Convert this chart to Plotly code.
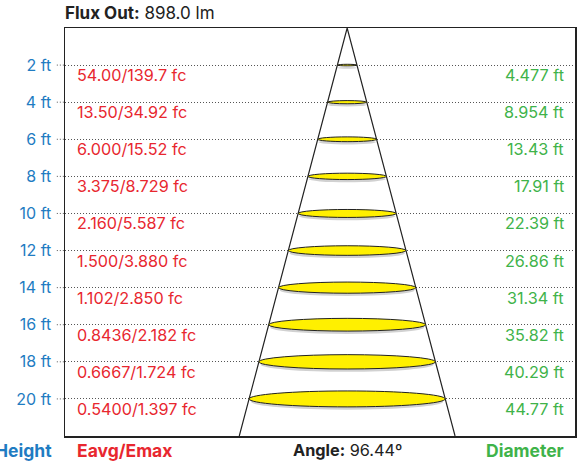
import math
import plotly.graph_objects as go

heights = [2, 4, 6, 8, 10, 12, 14, 16, 18, 20]
eavg = ["54.00", "13.50", "6.000", "3.375", "2.160", "1.500", "1.102", "0.8436", "0.6667", "0.5400"]
emax = ["139.7", "34.92", "15.52", "8.729", "5.587", "3.880", "2.850", "2.182", "1.724", "1.397"]
diameters = [4.477, 8.954, 13.43, 17.91, 22.39, 26.86, 31.34, 35.82, 40.29, 44.77]
diam_labels = ["4.477", "8.954", "13.43", "17.91", "22.39", "26.86", "31.34", "35.82", "40.29", "44.77"]
tick_labels = ["2 ft", "4 ft", "6 ft", "8 ft", "10 ft", "12 ft", "14 ft", "16 ft", "18 ft", "20 ft"]
beam_angle = 96.44
flux_out = "898.0"

RED = "#e8272f"
GREEN = "#3fb34a"
BLUE = "#1f7cc2"
YELLOW = "#fff000"
DARK = "#222222"
FONT = "Inter"

Y_MAX = 22
X_RANGE = [-64.4, 52.0]
ELLIPSE_RATIO = 0.0192  # vertical radius (ft) per horizontal radius (ft)

fig = go.Figure()

# cone outline
half = math.tan(math.radians(beam_angle / 2)) * Y_MAX
fig.add_trace(go.Scatter(x=[-half, 0, half], y=[Y_MAX, 0, Y_MAX], mode="lines",
                         line=dict(color=DARK, width=1.2), hoverinfo="skip",
                         showlegend=False))

shapes = []
for h in heights:
    # dotted tick stubs outside the frame
    shapes.append(dict(type="line", xref="paper", yref="y", x0=-0.016, x1=0, y0=h, y1=h,
                       line=dict(color="#555555", width=1, dash="1px,2px")))
for h, d in zip(heights, diameters):
    r = d / 2
    ry = r * ELLIPSE_RATIO
    shapes.append(dict(type="circle", xref="x", yref="y", x0=-r * 0.98, x1=r * 0.98,
                       y0=h - ry + 0.15, y1=h + ry + 0.15,
                       fillcolor="rgba(0,0,0,0.18)", line=dict(width=0), layer="above"))
    shapes.append(dict(type="circle", xref="x", yref="y", x0=-r, x1=r,
                       y0=h - ry, y1=h + ry,
                       fillcolor=YELLOW, line=dict(color=DARK, width=1), layer="above"))

annotations = []
for h, a, m, dl in zip(heights, eavg, emax, diam_labels):
    annotations.append(dict(x=0, xref="paper", xanchor="left", xshift=10,
                            y=h, yref="y", yanchor="middle", yshift=-10,
                            text=f"{a}/{m} fc", showarrow=False,
                            font=dict(family=FONT, size=16.2, color=RED)))
    annotations.append(dict(x=1, xref="paper", xanchor="right", xshift=-9,
                            y=h, yref="y", yanchor="middle", yshift=-10,
                            text=f"{dl} ft", showarrow=False,
                            font=dict(family=FONT, size=16.2, color=GREEN)))

annotations += [
    dict(x=0, xref="paper", xanchor="left", xshift=-2, y=1, yref="paper", yanchor="middle", yshift=15,
         text=f"<b>Flux Out:</b> {flux_out} lm", showarrow=False,
         font=dict(family=FONT, size=17, color=DARK)),
    dict(x=0, xref="paper", xanchor="right", xshift=-11, y=0, yref="paper", yanchor="middle", yshift=-14,
         text="<b>Height</b>", showarrow=False, font=dict(family=FONT, size=17.5, color=BLUE)),
    dict(x=0, xref="paper", xanchor="left", xshift=10, y=0, yref="paper", yanchor="middle", yshift=-14,
         text="<b>Eavg/Emax</b>", showarrow=False, font=dict(family=FONT, size=17.5, color=RED)),
    dict(x=0.443, xref="paper", xanchor="left", y=0, yref="paper", yanchor="middle", yshift=-14,
         text=f"<b>Angle:</b> {beam_angle:.2f}º", showarrow=False,
         font=dict(family=FONT, size=16.3, color=DARK)),
    dict(x=1, xref="paper", xanchor="right", xshift=-9, y=0, yref="paper", yanchor="middle", yshift=-14,
         text="<b>Diameter</b>", showarrow=False, font=dict(family=FONT, size=17.5, color=GREEN)),
]

fig.update_layout(
    width=586, height=465,
    margin=dict(l=65, r=9, t=28, b=29),
    paper_bgcolor="white", plot_bgcolor="white",
    shapes=shapes, annotations=annotations,
    xaxis=dict(range=X_RANGE, showgrid=False, zeroline=False, showticklabels=False,
               showline=True, mirror=True, linecolor=DARK, linewidth=1.5, fixedrange=True),
    yaxis=dict(range=[Y_MAX, 0], tickvals=heights, ticktext=tick_labels,
               tickfont=dict(family=FONT, size=16, color=BLUE),
               showgrid=True, gridcolor="#555555", griddash="1px,2px", gridwidth=1,
               ticks="outside", ticklen=9, tickcolor="rgba(0,0,0,0)",
               zeroline=False, showline=True, mirror=True, linecolor=DARK, linewidth=1.5,
               fixedrange=True),
)

fig.write_html("out.html", config={"displayModeBar": False, "staticPlot": True},
               post_script="document.body.style.margin='0px';document.body.style.overflow='hidden';")
